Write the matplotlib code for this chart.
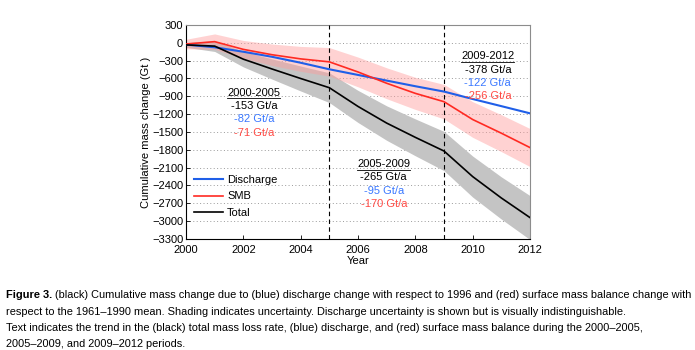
import numpy as np
import matplotlib
matplotlib.use('Agg')
from matplotlib import pyplot as plt

plt.rcParams['font.family'] = ['Liberation Sans', 'DejaVu Sans']

# data (Gt)
years = [2000, 2001, 2002, 2003, 2004, 2005, 2006, 2007, 2008, 2009, 2010, 2011, 2012]
discharge = [-30, -75, -150, -235, -335, -445, -540, -635, -730, -820, -945, -1065, -1186]
smb = [-20, 20, -110, -200, -270, -320, -490, -680, -850, -990, -1290, -1520, -1762]
total = [-35, -55, -275, -440, -600, -755, -1070, -1350, -1590, -1820, -2250, -2610, -2940]
smb_unc = [80, 130, 150, 180, 210, 240, 250, 260, 270, 290, 300, 310, 320]
total_unc = [40, 90, 130, 170, 210, 250, 270, 290, 310, 330, 345, 355, 370]

periods = ['2000-2005', '2005-2009', '2009-2012']
rate_total = ['-153 Gt/a', '-265 Gt/a', '-378 Gt/a']
rate_discharge = ['-82 Gt/a', '-95 Gt/a', '-122 Gt/a']
rate_smb = ['-71 Gt/a', '-170 Gt/a', '-256 Gt/a']
text_pos = [(2002.37, -890), (2006.9, -2090), (2010.53, -275)]

caption = [
    (' (black) Cumulative mass change due to (blue) discharge change with respect to 1996 and (red) surface mass balance change with'),
    'respect to the 1961\u20131990 mean. Shading indicates uncertainty. Discharge uncertainty is shown but is visually indistinguishable.',
    'Text indicates the trend in the (black) total mass loss rate, (blue) discharge, and (red) surface mass balance during the 2000\u20132005,',
    '2005\u20132009, and 2009\u20132012 periods.',
]

BLUE = '#1f5fe8'
RED = '#ff2a22'
TBLUE = '#3a78ff'
TRED = '#ff4a44'

fig = plt.figure(figsize=(6.95, 3.5), dpi=100)
ax = fig.add_axes([186/695, 1-239/350, 344/695, 214/350])

yr = np.array(years)
s = np.array(smb); su = np.array(smb_unc)
t = np.array(total); tu = np.array(total_unc)
ax.fill_between(yr, t-tu, t+tu, color='#c4c4c4', lw=0, zorder=1)
ax.fill_between(yr, s-su, s+su, color='#ff9c9c', alpha=0.45, lw=0, zorder=2)

ax.plot(years, discharge, color=BLUE, lw=1.5, label='Discharge', zorder=4)
ax.plot(years, smb, color=RED, lw=1.2, label='SMB', zorder=4)
ax.plot(years, total, color='black', lw=1.2, label='Total', zorder=4)

for xv in [2005, 2009]:
    ax.axvline(xv, color='black', ls=(0, (4, 3)), lw=0.8, zorder=3)

ax.set_xlim(2000, 2012)
ax.set_ylim(-3300, 300)
ax.set_xticks(range(2000, 2013, 2))
ax.set_yticks(range(-3300, 301, 300))
ax.yaxis.grid(True, ls=(0, (1, 2.5)), color='#9a9a9a', lw=0.7)
ax.set_axisbelow(True)
ax.tick_params(direction='in', labelsize=8, length=3, width=0.6, pad=2)
ax.tick_params(axis='x', pad=4)
for side in ['top', 'right']:
    ax.spines[side].set_color('#8c8c8c')
for sp in ax.spines.values():
    sp.set_linewidth(0.8)
ax.set_xlabel('Year', fontsize=8, labelpad=1)
ax.set_ylabel('Cumulative mass change (Gt )', fontsize=8, labelpad=1)

ax.legend(loc='lower left', bbox_to_anchor=(0.0, 0.06), frameon=False, fontsize=8,
          handlelength=2.6, handletextpad=0.4, labelspacing=0.62, borderaxespad=0.3)

fig.canvas.draw()
rend = fig.canvas.get_renderer()
for i in range(3):
    x0, y0 = text_pos[i]
    h = ax.text(x0, y0, periods[i], fontsize=8, ha='center', va='baseline', zorder=5)
    bb = h.get_window_extent(rend).transformed(ax.transData.inverted())
    ax.plot([bb.x0, bb.x1], [y0 - 45, y0 - 45], color='black', lw=0.6, zorder=5)
    ax.text(x0, y0 - 225, rate_total[i], fontsize=8, ha='center', va='baseline', zorder=5)
    ax.text(x0, y0 - 450, rate_discharge[i], fontsize=8, ha='center', va='baseline', color=TBLUE, zorder=5)
    ax.text(x0, y0 - 675, rate_smb[i], fontsize=8, ha='center', va='baseline', color=TRED, zorder=5)

# caption
cap_fs = 7.9
cap_y = [0.148, 0.100, 0.053, 0.008]
b = fig.text(6/695, cap_y[0], 'Figure 3.', fontsize=cap_fs, fontweight='bold', va='baseline')
fig.canvas.draw()
bx = b.get_window_extent(rend).x1 / fig.bbox.width
fig.text(bx, cap_y[0], caption[0], fontsize=cap_fs, va='baseline')
for line, yy in zip(caption[1:], cap_y[1:]):
    fig.text(6/695, yy, line, fontsize=cap_fs, va='baseline')

fig.savefig('out.png', dpi=100)
